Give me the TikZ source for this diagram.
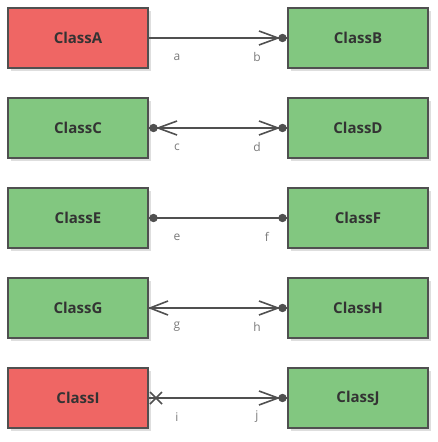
\documentclass[tikz,border=0pt]{standalone}
\usepackage{fontspec}
\setmainfont{Open Sans}
\usetikzlibrary{calc}
\definecolor{redf}{HTML}{EF6664}
\definecolor{greenf}{HTML}{82C780}
\definecolor{edge}{HTML}{505050}
\definecolor{lbl}{HTML}{7A7A7A}
\definecolor{txt}{HTML}{333333}
\tikzset{
  cls/.style={draw=edge, line width=2pt, minimum width=140pt, minimum height=60pt, inner sep=0pt,
    font=\fontsize{15}{17}\selectfont\bfseries, text=txt,
    preaction={fill=black, fill opacity=0.13, transform canvas={shift={(2.5pt,-3pt)}}}},
  redbox/.style={cls, fill=redf},
  greenbox/.style={cls, fill=greenf},
  conn/.style={draw=edge, line width=1.6pt},
  tip/.style={draw=edge, line width=1.6pt, line join=miter},
  dotc/.style={fill=edge},
  lab/.style={font=\fontsize{12}{14}\selectfont, text=lbl, inner sep=0pt}
}
\begin{document}
\begin{tikzpicture}[x=1pt,y=-1pt]
\useasboundingbox (0,0) rectangle (438,442);
% boxes
\node[redbox]   (A) at (78,38)  {ClassA};
\node[greenbox] (B) at (358,38) {ClassB};
\node[greenbox] (C) at (78,128)  {ClassC};
\node[greenbox] (D) at (358,128) {ClassD};
\node[greenbox] (E) at (78,218)  {ClassE};
\node[greenbox] (F) at (358,218) {ClassF};
\node[greenbox] (G) at (78,308)  {ClassG};
\node[greenbox] (H) at (358,308) {ClassH};
\node[redbox]   (I) at (78,398)  {ClassI};
\node[greenbox] (J) at (358,398) {ClassJ};
% row 1
\draw[conn] (A.east) -- (B.west);
\draw[tip] ($(B.west)+(-28,-7)$) -- ($(B.west)+(-9,0)$) -- ($(B.west)+(-28,7)$);
\fill[dotc] ($(B.west)+(-4.5,0)$) circle (4.2);
\node[lab] (la) at (177,57) {a};
\node[lab] (lb) at (257,57) {b};
% row 2
\draw[conn] (C.east) -- (D.west);
\draw[tip] ($(C.east)+(28,-7)$) -- ($(C.east)+(9,0)$) -- ($(C.east)+(28,7)$);
\fill[dotc] ($(C.east)+(4.5,0)$) circle (4.2);
\draw[tip] ($(D.west)+(-28,-7)$) -- ($(D.west)+(-9,0)$) -- ($(D.west)+(-28,7)$);
\fill[dotc] ($(D.west)+(-4.5,0)$) circle (4.2);
\node[lab] (lc) at (177,147) {c};
\node[lab] (ld) at (257,147) {d};
% row 3
\draw[conn] (E.east) -- (F.west);
\fill[dotc] ($(E.east)+(4.5,0)$) circle (4.2);
\fill[dotc] ($(F.west)+(-4.5,0)$) circle (4.2);
\node[lab] (le) at (177,237) {e};
\node[lab] (lf) at (267,237) {f};
% row 4
\draw[conn] (G.east) -- (H.west);
\draw[tip] ($(G.east)+(19,-7)$) -- ($(G.east)+(1,0)$) -- ($(G.east)+(19,7)$);
\draw[tip] ($(H.west)+(-28,-7)$) -- ($(H.west)+(-9,0)$) -- ($(H.west)+(-28,7)$);
\fill[dotc] ($(H.west)+(-4.5,0)$) circle (4.2);
\node[lab] (lg) at (177,327) {g};
\node[lab] (lh) at (257,327) {h};
% row 5
\draw[conn] (I.east) -- (J.west);
\draw[tip] ($(I.east)+(1,-6)$) -- ($(I.east)+(13,6)$);
\draw[tip] ($(I.east)+(1,6)$) -- ($(I.east)+(13,-6)$);
\draw[tip] ($(J.west)+(-28,-7)$) -- ($(J.west)+(-9,0)$) -- ($(J.west)+(-28,7)$);
\fill[dotc] ($(J.west)+(-4.5,0)$) circle (4.2);
\node[lab] (li) at (177,417) {i};
\node[lab] (lj) at (257,417) {j};
\end{tikzpicture}
\end{document}
